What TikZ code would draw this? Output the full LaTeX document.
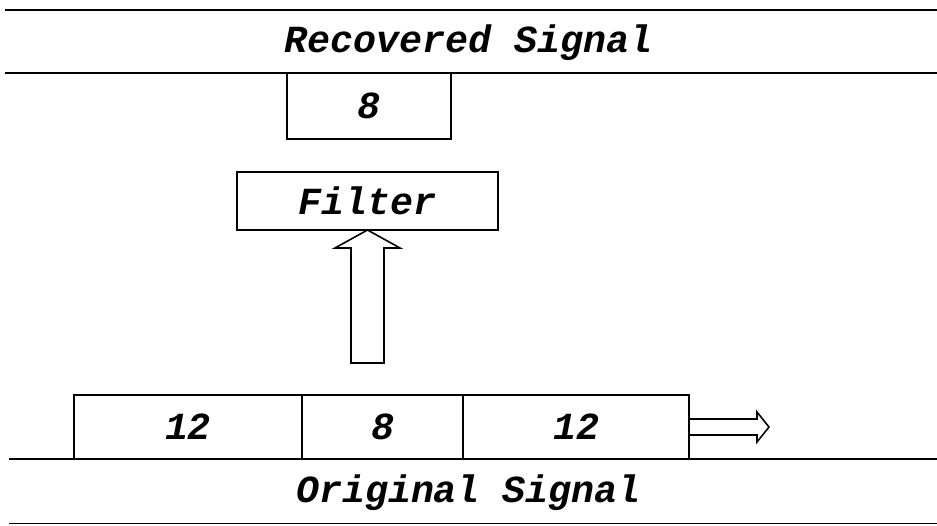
\documentclass[tikz,border=0pt]{standalone}
\usepackage{fontspec}
\setmainfont{Liberation Mono}
\usetikzlibrary{positioning}
\begin{document}
\begin{tikzpicture}[
    lbl/.style={font=\fontsize{21.8}{24}\selectfont\bfseries\itshape},
    cell/.style={lbl, draw, line width=.9pt, outer sep=0pt, inner sep=0pt, minimum height=1.28cm},
    rule/.style={line width=1.1pt}
  ]
      \useasboundingbox (0,0) rectangle (18.74,10.5);

      \draw[rule] (0.1,10.3) -- (18.74,10.3);
      \draw[rule] (0.1,9.04) -- (18.74,9.04);
      \node[lbl] (rec) at (9.37,9.64) {Recovered Signal};

      \node[cell, minimum width=3.28cm, minimum height=1.32cm] (out) at (7.38,8.38) {8};
      \node[cell, minimum width=5.22cm, minimum height=1.16cm] (filter) at (7.35,6.48) {Filter};

      \draw[line width=.9pt] (filter.south) -- ++(.65,-.36) -- ++(-.32,0) -- ++(0,-2.3) -- ++(-.66,0)
            -- ++(0,2.3) -- ++(-.32,0) -- cycle;


      \node[cell, minimum width=4.56cm, anchor=south west] (c1) at (1.48,1.32) {12};
      \node[cell, minimum width=3.22cm, right=0pt of c1] (c2) {8};
      \node[cell, minimum width=4.52cm, right=0pt of c2] (c3) {12};

      \draw[line width=.9pt] (c3.east) ++(0,.16) -- ++(1.36,0) -- ++(0,.14) -- ++(.24,-.3)
            -- ++(-.24,-.3) -- ++(0,.14) -- ++(-1.36,0);

      \draw[rule] (0.18,1.32) -- (18.74,1.32);
      \draw[rule] (0.18,0.03) -- (18.74,0.03);
      \node[lbl] (orig) at (9.37,0.64) {Original Signal};
    \end{tikzpicture}
\end{document}
